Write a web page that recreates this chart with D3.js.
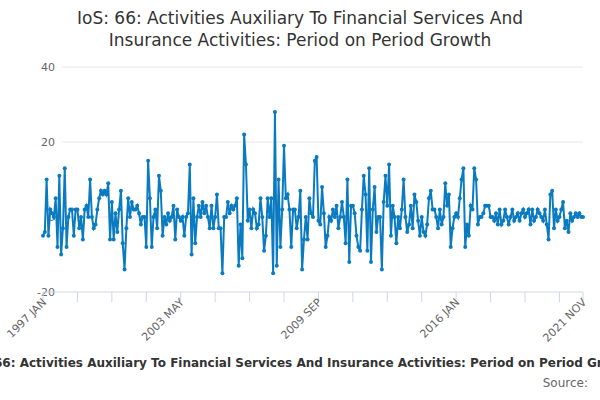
<!DOCTYPE html>
<html><head><meta charset="utf-8">
<script src="https://cdn.jsdelivr.net/npm/d3@7"></script>
<style>body{margin:0;background:#fff;font-family:"DejaVu Sans",sans-serif;overflow:hidden}</style>
</head><body>
<svg id="c" width="600" height="400"></svg>
<script>
// monthly growth, 1997 JAN .. 2021 NOV
const values = [
-5,-4,10,-5,2,1,0,5,-8,11,-10,-3,13,-8,0,2,2,-5,2,2,-3,0,-6,2,3,0,10,0,-3,-2,
2,5,7,6,7,6,9,-6,4,-6,1,-4,2,7,-7,-14,-3,5,0,4,2,2,3,1,-2,0,0,-8,15,5,
-8,0,2,-3,11,7,-5,0,-2,1,-1,0,3,-6,2,0,-1,
0,-5,0,1,14,-10,5,-7,0,3,0,4,1,3,0,-3,3,-3,0,6,-3,-3,-15,0,0,4,1,3,2,3,
5,-13,-2,-11,22,14,-1,2,-3,2,1,-3,-2,5,0,-9,-5,5,0,5,-15,28,-13,10,-8,2,19,5,6,2,
-8,2,2,-3,0,7,-14,-6,0,-6,5,1,0,15,16,-1,-2,8,1,-8,-5,0,
-1,2,0,3,-3,0,4,0,-7,10,-12,3,3,1,-5,-8,-9,2,11,6,-9,13,-12,2,8,-4,0,0,-14,4,
11,3,14,-5,3,0,-7,0,-3,2,10,0,-4,-2,3,-3,6,4,-1,-5,0,-4,-5,-2,5,7,2,2,0,-3,
2,-2,0,9,3,6,-8,-3,0,1,0,
5,10,13,-8,-2,-5,3,2,13,10,-2,0,0,1,3,3,3,0,0,-1,1,-2,2,-2,-1,2,0,-2,0,2,
-1,0,1,-1,1,2,0,1,2,-2,2,-1,0,2,1,0,-1,2,-2,-6,6,7,-3,2,-1,0,2,4,-3,-1,
-4,1,-1,0,1,0,1,0,0
];
const labelTicks = ["1997 JAN","2003 MAY","2009 SEP","2016 JAN","2021 NOV"];
const yTicks = [-20,0,20,40];
const months = ["JAN","FEB","MAR","APR","MAY","JUN","JUL","AUG","SEP","OCT","NOV","DEC"];
const labelOf = i => (1997 + Math.floor(i / 12)) + " " + months[i % 12];

const svg = d3.select("#c");
const x = d3.scaleLinear().domain([0, values.length - 1]).range([43, 583]);
const y = d3.scaleLinear().domain([-20, 40]).range([292, 67]);

svg.append("text").attr("x", 300).attr("y", 24).attr("text-anchor", "middle")
  .attr("font-size", 17).attr("fill", "#333")
  .text("IoS: 66: Activities Auxiliary To Financial Services And");
svg.append("text").attr("x", 300).attr("y", 46).attr("text-anchor", "middle")
  .attr("font-size", 17).attr("fill", "#333")
  .text("Insurance Activities: Period on Period Growth");

// grid
const gridG = svg.append("g");
gridG.selectAll("line").data(yTicks.filter(d => d > -20)).enter().append("line")
  .attr("x1", 62).attr("x2", 583).attr("y1", d => y(d)).attr("y2", d => y(d))
  .attr("stroke", "#e6e6e6");
const yLab = svg.append("g");
yLab.selectAll("text").data(yTicks).enter().append("text")
  .attr("x", 55).attr("y", d => y(d) + 4).attr("text-anchor", "end")
  .attr("font-size", 11).attr("fill", "#666").text(d => String(d));

// x axis
svg.append("line").attr("x1", 43).attr("x2", 583).attr("y1", 292).attr("y2", 292)
  .attr("stroke", "#ccd6eb");
const tickIdx = d3.range(0, values.length, 19).concat([values.length - 1]);
svg.append("g").selectAll("line").data(tickIdx).enter().append("line")
  .attr("x1", d => x(d)).attr("x2", d => x(d)).attr("y1", 292).attr("y2", 302)
  .attr("stroke", "#ccd6eb");
const labIdx = d3.range(values.length).filter(i => labelTicks.includes(labelOf(i)));
svg.append("g").selectAll("text").data(labIdx).enter().append("text")
  .attr("transform", d => `translate(${x(d) + 4},${303}) rotate(-45)`)
  .attr("text-anchor", "end").attr("font-size", 11).attr("fill", "#666")
  .text(d => labelOf(d));

// series
const line = d3.line().x((d, i) => x(i)).y(d => y(d));
svg.append("path").datum(values).attr("d", line).attr("fill", "none")
  .attr("stroke", "#0a7bc1").attr("stroke-width", 2);
svg.append("g").selectAll("circle").data(values).enter().append("circle")
  .attr("cx", (d, i) => x(i)).attr("cy", d => y(d)).attr("r", 2).attr("fill", "#0a7bc1");

svg.append("text").attr("x", 300).attr("y", 367).attr("text-anchor", "middle")
  .attr("font-size", 12).attr("font-weight", "bold").attr("fill", "#333")
  .text("IoS: 66: Activities Auxiliary To Financial Services And Insurance Activities: Period on Period Growth");
svg.append("text").attr("x", 588).attr("y", 387).attr("text-anchor", "end")
  .attr("font-size", 12).attr("fill", "#666").text("Source:");
</script>
</body></html>
